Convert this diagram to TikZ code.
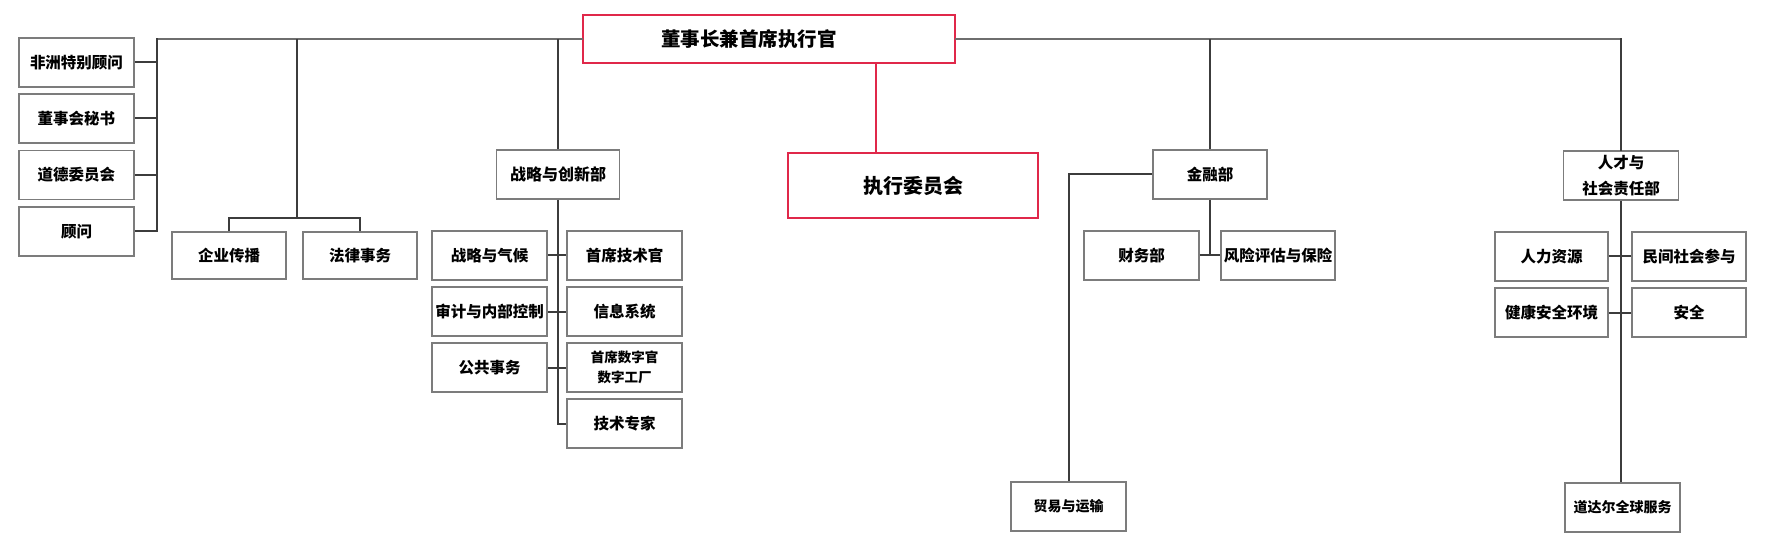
\documentclass[tikz,border=0pt]{standalone}
\usepackage{fontspec}
\setmainfont{Noto Sans CJK SC}
\definecolor{linegray}{HTML}{3C3C3C}
\definecolor{topgray}{HTML}{6E6E6E}
\definecolor{boxgray}{HTML}{7C7C7C}
\definecolor{redline}{HTML}{E0284A}
\begin{document}
\begin{tikzpicture}[x=1pt,y=-1pt,
  box/.style={draw=boxgray, line width=1.8pt, fill=white, inner sep=0pt,
    minimum width=115pt, minimum height=49pt, align=center,
    font=\bfseries\fontsize{15.5}{18}\selectfont},
  redbox/.style={draw=redline, line width=2.5pt, fill=white, inner sep=0pt,
    align=center, font=\bfseries\fontsize{19.5}{22}\selectfont},
  conn/.style={draw=linegray, line width=2pt},
  topconn/.style={draw=topgray, line width=2pt},
  redconn/.style={draw=redline, line width=2.5pt}]
\useasboundingbox (0,0) rectangle (1773,540);
% top
\node[redbox, minimum width=372pt, minimum height=48pt] (ceo) at (769,39) {董事长兼首席执行官\hspace*{40pt}};
\node[redbox, minimum width=250pt, minimum height=65pt, font=\bfseries\fontsize{20}{22}\selectfont] (exec) at (913,185.5) {执行委员会};
% left column
\node[box] (a1) at (76.5,62.5) {非洲特别顾问};
\node[box] (a2) at (76.5,118.5) {董事会秘书};
\node[box] (a3) at (76.5,175) {道德委员会};
\node[box] (a4) at (76.5,231.5) {顾问};
% communication / legal
\node[box, minimum width=114pt, minimum height=47pt] (b1) at (229,255.5) {企业传播};
\node[box, minimum width=114pt, minimum height=47pt] (b2) at (360,255.5) {法律事务};
% strategy
\node[box, minimum width=123pt, font=\bfseries\fontsize{16}{18}\selectfont] (strat) at (558,174.5) {战略与创新部};
\node[box] (sL1) at (489.5,255.5) {战略与气候};
\node[box] (sL2) at (489.5,311.5) {审计与内部控制};
\node[box] (sL3) at (489.5,367.5) {公共事务};
\node[box] (sR1) at (624.5,255.5) {首席技术官};
\node[box] (sR2) at (624.5,311.5) {信息系统};
\node[box, font=\bfseries\fontsize{13.5}{20}\selectfont] (sR3) at (624.5,367.5) {首席数字官\\数字工厂};
\node[box] (sR4) at (624.5,423.5) {技术专家};
% finance
\node[box, minimum width=114pt] (fin) at (1210,174.5) {金融部};
\node[box] (f1) at (1141.5,255.5) {财务部};
\node[box, minimum width=114pt] (f2) at (1278,255.5) {风险评估与保险};
\node[box, font=\bfseries\fontsize{14}{18}\selectfont] (trade) at (1068.5,506.5) {贸易与运输};
% people
\node[box, font=\bfseries\fontsize{15.5}{26}\selectfont] (hr) at (1621,175.5) {人才与\\社会责任部};
\node[box, minimum width=113pt] (h1) at (1551.5,256.5) {人力资源};
\node[box, minimum width=114pt] (h2) at (1689,256.5) {民间社会参与};
\node[box, minimum width=113pt] (h3) at (1551.5,312.5) {健康安全环境};
\node[box, minimum width=114pt] (h4) at (1689,312.5) {安全};
\node[box, font=\bfseries\fontsize{14}{18}\selectfont] (global) at (1622.5,507.5) {道达尔全球服务};
% connectors
\coordinate (lt) at (157,39);
\coordinate (rt) at (1621,39);
\coordinate (cb) at (297,39);
\coordinate (cm) at (297,218);
\coordinate (rc) at (876,0);
\draw[topconn, line cap=rect] (lt) -- (ceo.west);
\draw[topconn, line cap=rect] (ceo.east) -- (rt);
\draw[conn, line cap=rect] (lt) -- (lt |- a4.east);
\draw[conn, line cap=rect] (rt) -- (hr.north);
\foreach \n in {a1,a2,a3,a4} \draw[conn] (\n.east) -- (lt |- \n.east);
\draw[conn] (cb) -- (cm);
\draw[conn] (b1.north) -- (b1.north |- cm) -- (b2.north |- cm) -- (b2.north);
\draw[conn] (strat.north |- lt) -- (strat.north);
\draw[conn] (strat.south) -- (strat.south |- sR4.west) -- (sR4.west);
\draw[conn] (sL1.east) -- (sR1.west);
\draw[conn] (sL2.east) -- (sR2.west);
\draw[conn] (sL3.east) -- (sR3.west);
\draw[conn] (fin.north |- lt) -- (fin.north);
\draw[conn] (fin.west) -- (fin.west -| trade.north) -- (trade.north);
\draw[conn] (fin.south) -- (fin.south |- f1.east);
\draw[conn] (f1.east) -- (f2.west);
\draw[conn] (hr.south) -- (hr.south |- global.north);
\draw[conn] (h1.east) -- (h2.west);
\draw[conn] (h3.east) -- (h4.west);
\draw[redconn] (ceo.south -| rc) -- (exec.north -| rc);
\end{tikzpicture}
\end{document}
